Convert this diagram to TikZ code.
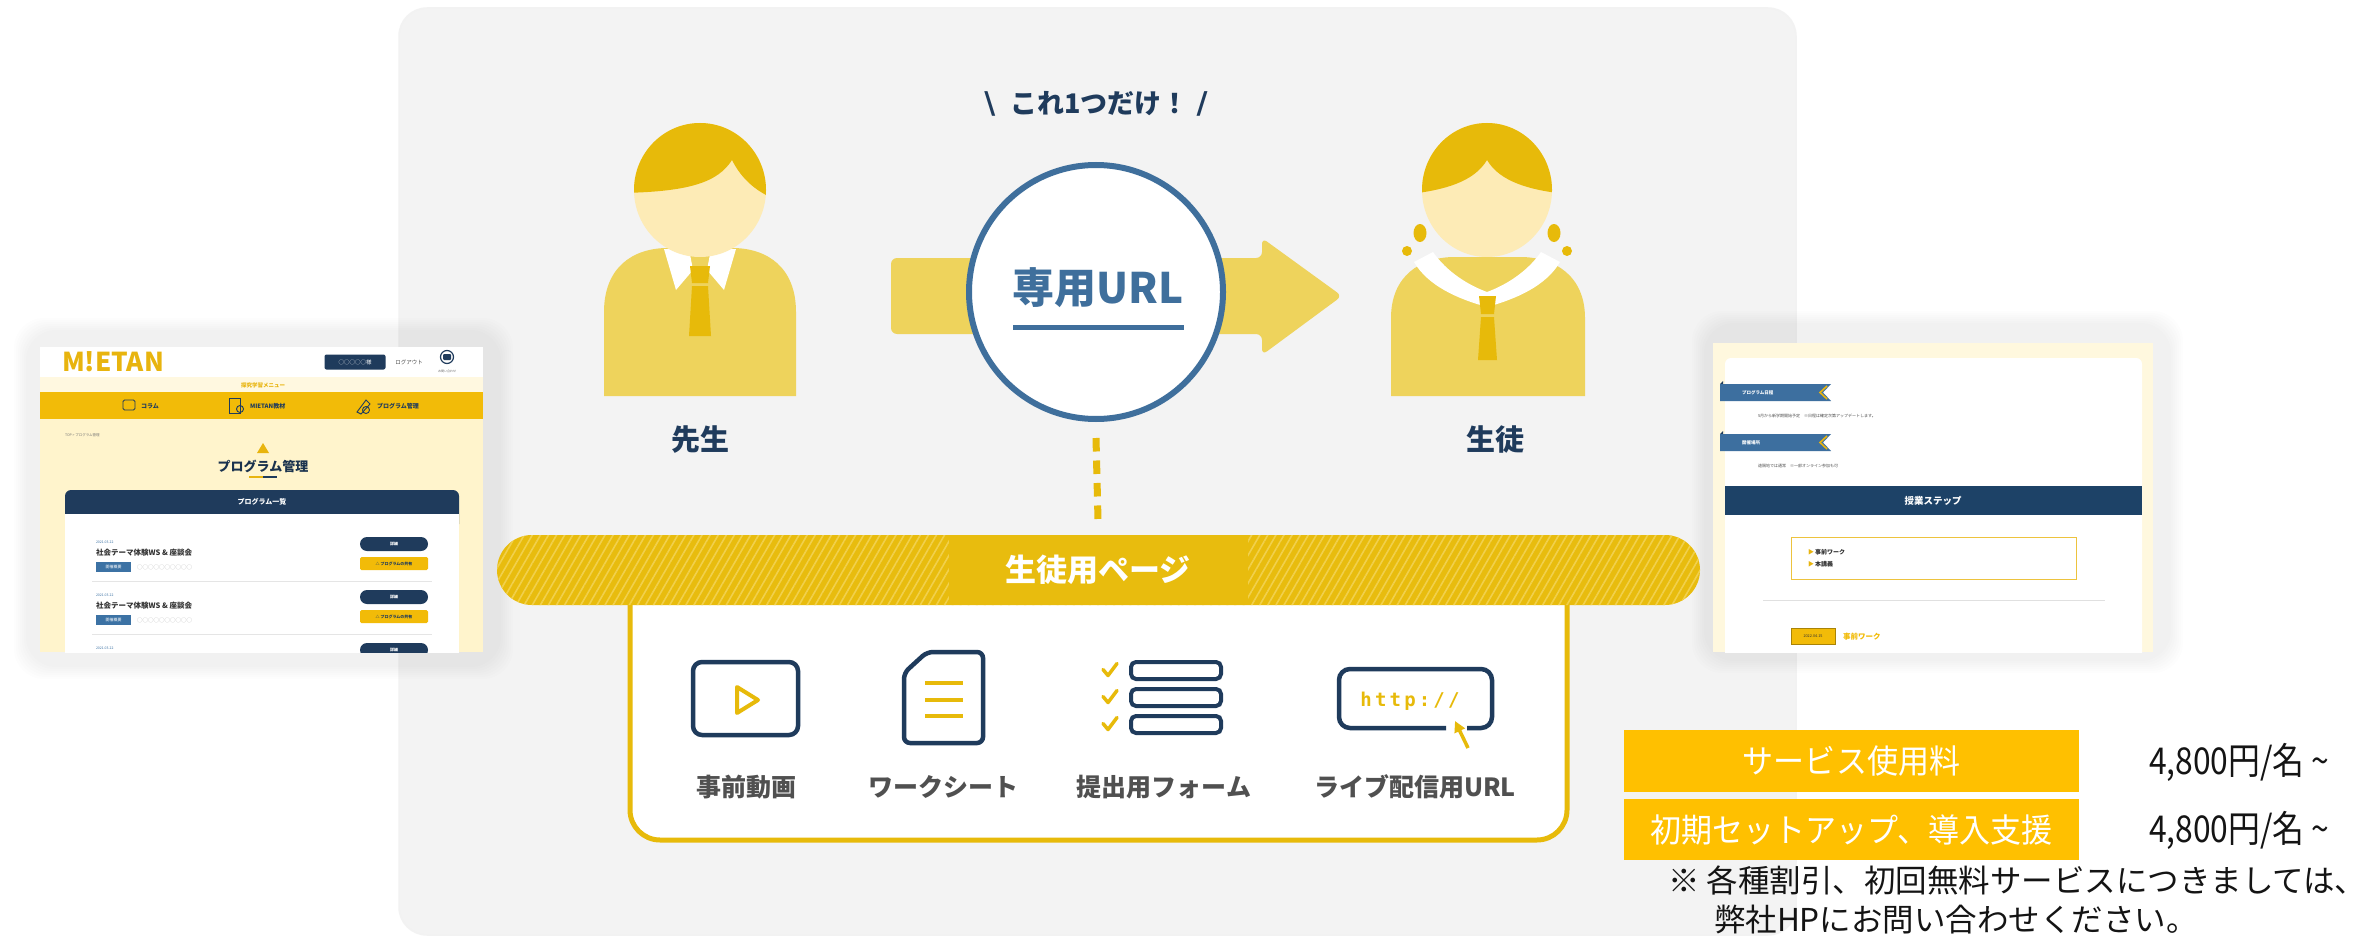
\documentclass[tikz,border=0pt]{standalone}
\usepackage{fontspec}
\usetikzlibrary{patterns.meta,arrows.meta,calc}
\setmainfont{Noto Sans CJK JP}
\newfontfamily\monofont{DejaVu Sans Mono}
\newfontfamily\symfont{DejaVu Sans}
\newfontfamily\narrowfont[FakeStretch=0.86]{Noto Sans CJK JP}
\newfontfamily\boxfont[FakeStretch=0.94]{Noto Sans CJK JP}
\newcommand\setfs[1]{\fontsize{#1}{#1}\selectfont}

\definecolor{panelgray}{HTML}{F3F3F3}
\definecolor{navy}{HTML}{1F3B5C}
\definecolor{steel}{HTML}{3F6F9C}
\definecolor{hairy}{HTML}{E7BA0A}
\definecolor{bodyy}{HTML}{EED35C}
\definecolor{facey}{HTML}{FDEBB6}
\definecolor{banda}{HTML}{E8BC0E}
\definecolor{bandstripe}{HTML}{F1D04C}
\definecolor{pricey}{HTML}{FFC000}
\definecolor{labgray}{HTML}{505050}
\definecolor{cream}{HTML}{FFF4CC}
\definecolor{navbar}{HTML}{F2BB08}
\definecolor{logoy}{HTML}{E8B40E}
\definecolor{tagblue}{HTML}{3C72A4}
\definecolor{ribbon}{HTML}{3D6F9F}
\definecolor{darkbar}{HTML}{1D4267}

\tikzset{
  every node/.style={inner sep=0pt, outer sep=0pt},
  person/.style={font=\bfseries\setfs{29}, text=navy},
  iconlabel/.style={font=\bfseries\setfs{25}, text=labgray},
  markline/.style={draw=hairy, line width=4, line cap=round, line join=round},
  feebox/.style={fill=pricey, minimum width=455, text=white, font=\boxfont\setfs{33}},
  feetext/.style={anchor=west, font=\narrowfont\setfs{37}, text=black!92},
  notetext/.style={anchor=west, font=\setfs{31.5}, text=black!92},
  tinytext/.style={anchor=west, font=\setfs{#1}},
  tinytext/.default=4,
}

\begin{document}
\begin{tikzpicture}[x=1pt,y=-1pt]
\useasboundingbox (0,0) rectangle (2362,939);
\fill[white] (0,0) rectangle (2362,939);

% central panel
\fill[panelgray, rounded corners=28] (399,8) rectangle (1796,935);
\draw[black!5, line width=1.5, rounded corners=28] (399,8) rectangle (1796,935);

% soft halos behind the two screen captures
\foreach \d in {0,2,...,12} {
  \fill[black, opacity=0.007, rounded corners=30] (14+\d,318+\d) rectangle (513-\d,679-\d);
  \fill[black, opacity=0.007, rounded corners=30] (1692+\d,311+\d) rectangle (2183-\d,673-\d);
}

% ---------- left screen capture: programme management page ----------
\begin{scope}
  \clip (40,347) rectangle (483,652);
  \fill[white] (40,347) rectangle (483,377);
  \fill[cream!60!white] (40,377) rectangle (483,392);
  \fill[navbar] (40,392) rectangle (483,419);
  \fill[cream] (40,419) rectangle (483,652);
  \node[anchor=west, font=\bfseries\setfs{26}, text=logoy] (logo) at (62,362) {M!ETAN};
  \node[fill=navy, rounded corners=2, minimum width=61, minimum height=15, font=\setfs{5.5}, text=white] (userbtn) at (355,362) {○○○○○様};
  \node[font=\setfs{5.5}, text=black!70] (logout) at (409,362) {ログアウト};
  \node[draw=navy, circle, line width=1.2, minimum size=13] (contact) at (447,357) {};
  \fill[navy, rounded corners=1] (443,354) rectangle (451,360);
  \node[font=\setfs{3}, text=black!60] (contacttext) at (447,371) {お問い合わせ};
  \node[font=\bfseries\setfs{5.5}, text=logoy] (menutitle) at (263,385) {探究学習メニュー};
  \draw[navy, line width=0.9, rounded corners=1.5] (123,400) rectangle (135,410);
  \node[anchor=west, font=\bfseries\setfs{6}, text=navy] (nav1) at (141,406) {コラム};
  \draw[navy, line width=0.9] (229,398) rectangle (240,413);
  \draw[navy, line width=0.9] (240,409) circle (3.5);
  \node[anchor=west, font=\bfseries\setfs{6}, text=navy] (nav2) at (250,406) {MIETAN教材};
  \draw[navy, line width=0.9] (357,412) -- (366,400) -- (370,404) -- (361,414) -- cycle;
  \draw[navy, line width=0.9] (366,410) circle (3.5);
  \node[anchor=west, font=\bfseries\setfs{6}, text=navy] (nav3) at (377,406) {プログラム管理};
  \node[anchor=west, font=\setfs{3.5}, text=black!55] (crumb) at (65,435) {TOP > プログラム管理};
  \fill[logoy] (263,443) -- (269,453) -- (257,453) -- cycle;
  \node[font=\bfseries\setfs{13}, text=navy!85!black] (pagetitle) at (263,466) {プログラム管理};
  \draw[logoy, line width=1.5] (249,477) -- (263,477);
  \draw[navy, line width=1.5] (263,477) -- (277,477);
  \fill[navy, rounded corners=6] (65,490) rectangle (459,530);
  \fill[white] (65,514) rectangle (459,660);
  \node[font=\bfseries\setfs{7}, text=white] (listhead) at (262,502) {プログラム一覧};
  \foreach \yy [count=\i] in {0,53,106} {
    \node[anchor=west, font=\setfs{3.5}, text=tagblue] (date\i) at (96,542+\yy) {2021.03.22};
    \node[anchor=west, font=\bfseries\setfs{7.5}, text=black!80] (title\i) at (96,553+\yy) {社会テーマ体験WS \& 座談会};
    \node[anchor=west, fill=tagblue, minimum width=35, minimum height=10, font=\setfs{4}, text=white] (tag\i) at (96,567+\yy) {開催概要};
    \node[anchor=west, font=\setfs{5.5}, text=black!30] (blank\i) at (137,567+\yy) {○○○○○○○○○○};
    \node[fill=navy, rounded corners=7, minimum width=68, minimum height=14, font=\bfseries\setfs{4}, text=white] (detail\i) at (394,544+\yy) {詳細};
    \node[fill=navbar, rounded corners=1.5, minimum width=68, minimum height=13, font=\bfseries\setfs{4}, text=navy] (share\i) at (394,563.5+\yy) {△ プログラムの共有};
    \draw[black!10, line width=1] (92,581+\yy) -- (432,581+\yy);
  }
\end{scope}

% ---------- right screen capture: student page ----------
\begin{scope}
  \clip (1713,343) rectangle (2153,652);
  \fill[cream!65!white] (1713,343) rectangle (2153,652);
  \fill[white, rounded corners=6] (1725,358) rectangle (2142,700);
  \foreach \yy/\txt [count=\i] in {384/プログラム日程,434/開催場所} {
    \fill[navy] (1720,\yy) -- (1723,\yy-3) -- (1723,\yy) -- cycle;
    \fill[ribbon] (1720,\yy) -- (1831,\yy) -- (1823,\yy+8.5) -- (1831,\yy+17) -- (1720,\yy+17) -- cycle;
    \draw[logoy, line width=1.6] (1827,\yy+2) -- (1820,\yy+8.5) -- (1827,\yy+15);
    \node[anchor=west, font=\bfseries\setfs{4.5}, text=white] (rib\i) at (1742,\yy+8.5) {\txt};
  }
  \node[tinytext=4, text=black!70] (sched) at (1758,416) {5月から新学期開始予定　※日程は確定次第アップデートします。};
  \node[tinytext=4, text=black!70] (place) at (1758,466) {遠隔地では通常　※一部オンライン参加も可};
  \fill[darkbar] (1725,486) rectangle (2142,515);
  \node[font=\bfseries\setfs{9.5}, text=white] (stephead) at (1933,500.5) {授業ステップ};
  \node[draw=logoy!80, line width=1, fill=white, minimum width=285, minimum height=42] (stepbox) at (1933.5,558) {};
  \node[tinytext=6, font=\bfseries\setfs{6}, text=black!80] (step1) at (1808,552) {\textcolor{logoy}{▶}\,事前ワーク};
  \node[tinytext=6, font=\bfseries\setfs{6}, text=black!80] (step2) at (1808,564) {\textcolor{logoy}{▶}\,本講義};
  \draw[black!12, line width=1] (1763,600) -- (2105,600);
  \node[fill=navbar, draw=navbar!70!black, line width=0.6, minimum width=44, minimum height=16, font=\setfs{3.8}, text=black!80] (datetag) at (1813,636.5) {2022.04.15};
  \node[anchor=west, font=\bfseries\setfs{7.5}, text=navbar] (prework) at (1843,636.5) {事前ワーク};
\end{scope}

% ---------- heading ----------
\node[font=\bfseries\setfs{27}, text=navy] (catch) at (1096,104) {{\symfont\bfseries\setfs{30}\textbackslash}\hspace{15pt}これ1つだけ！\hspace{8pt}{\symfont\bfseries\setfs{30}/}};

% ---------- block arrow from teacher to student ----------
\fill[bodyy, rounded corners=6] (891,258) -- (1262,258) -- (1262,238) -- (1342,296) -- (1262,355) -- (1262,334) -- (891,334) -- cycle;

% ---------- teacher ----------
\fill[bodyy] (604,396) -- (604,312) .. controls (604,268) and (632,248) .. (668,248) -- (732,248) .. controls (768,248) and (796,268) .. (796,312) -- (796,396) -- cycle;
\fill[white] (664,249) -- (689,249) -- (693,270) -- (676,290) -- cycle;
\fill[white] (736,249) -- (711,249) -- (707,270) -- (724,290) -- cycle;
\fill[facey] (700,190) ellipse [x radius=66, y radius=67];
\begin{scope}
  \clip (700,190) ellipse [x radius=66, y radius=67];
  \fill[hairy] (620,110) -- (780,110) -- (780,196) -- (768,196) .. controls (752,188) and (740,176) .. (732,160) .. controls (718,182) and (690,192) .. (620,193) -- cycle;
\end{scope}
\fill[hairy] (690,266) -- (710,266) -- (708,283) -- (692,283) -- cycle;
\fill[hairy] (692,286) -- (708,286) -- (711,336) -- (689,336) -- cycle;
\node[person] (sensei) at (700,440) {先生};

% ---------- student ----------
\fill[bodyy] (1391,396) -- (1391,318) .. controls (1391,276) and (1420,257) .. (1455,257) -- (1520,257) .. controls (1555,257) and (1585,276) .. (1585,318) -- (1585,396) -- cycle;
\fill[white] (1414,262) .. controls (1428,286) and (1458,299) .. (1487,307) .. controls (1516,299) and (1546,286) .. (1560,262) -- (1541,252) .. controls (1527,272) and (1506,285) .. (1487,292) .. controls (1468,285) and (1447,272) .. (1433,252) -- cycle;
\fill[facey] (1487,190) ellipse [x radius=65, y radius=67];
\begin{scope}
  \clip (1487,190) ellipse [x radius=65, y radius=67];
  \fill[hairy] (1410,110) -- (1565,110) -- (1565,194) .. controls (1530,190) and (1500,182) .. (1487,160) .. controls (1474,182) and (1444,190) .. (1410,194) -- cycle;
\end{scope}
\fill[hairy] (1420,233) ellipse [x radius=6.5, y radius=9];
\fill[hairy] (1554,233) ellipse [x radius=6.5, y radius=9];
\fill[hairy] (1407,251) circle (5);
\fill[hairy] (1567,251) circle (5);
\fill[hairy] (1479,296) -- (1496,296) -- (1494,314) -- (1481,314) -- cycle;
\fill[hairy] (1481,317) -- (1494,317) -- (1497,360) -- (1478,360) -- cycle;
\node[person] (seito) at (1495,440) {生徒};

% ---------- dedicated URL badge ----------
\node[circle, draw=steel, line width=6, fill=white, minimum size=254] (url) at (1096,292) {};
\node[font=\bfseries\setfs{42}, text=steel] (urltext) at (1098,288) {専用URL};
\draw[steel, line width=5] (1013,327) -- (1184,327);

% ---------- student page band ----------
\fill[white, rounded corners=30] (630,560) rectangle (1567,840);
\draw[hairy, line width=5, rounded corners=30] (630,600) -- (630,840) -- (1567,840) -- (1567,600);
\fill[banda, rounded corners=35] (497,535) rectangle (1700,605);
\fill[pattern={Lines[angle=60,distance=7pt,line width=1.6pt]}, pattern color=bandstripe, rounded corners=35] (497,535) rectangle (1700,605);
\node[fill=banda, minimum width=299, minimum height=70, font=\bfseries\setfs{31}, text=white] (band) at (1098,570) {生徒用ページ};

% dotted link from the URL badge down to the page band
\draw[hairy, line width=7, dash pattern=on 13.5pt off 9pt] ([yshift=-19pt]url.south) -- ([yshift=15pt]band.north);

% ---------- page contents ----------
\node[draw=navy, line width=4.5, rounded corners=9, minimum width=105, minimum height=73] (video) at (745.5,698.5) {};
\draw[markline] (737,687) -- (758,700) -- (737,713) -- cycle;

\draw[navy, line width=4.5, rounded corners=6] (927,652) -- (983,652) -- (983,743) -- (904,743) -- (904,673) -- cycle;
\draw[markline, line cap=butt] (925,683) -- (963,683);
\draw[markline, line cap=butt] (925,699.5) -- (963,699.5);
\draw[markline, line cap=butt] (925,716) -- (963,716);

\foreach \yy in {670.5,697.5,724.5} {
  \draw[navy, line width=4, rounded corners=5] (1131,\yy-8.5) rectangle (1221,\yy+8.5);
  \draw[markline, line width=3.5] (1103,\yy-1) -- (1108,\yy+5) -- (1117,\yy-7);
}

\draw[navy, line width=4.5, rounded corners=11] (1446,728) -- (1339,728) -- (1339,669) -- (1492,669) -- (1492,728) -- (1467,728);
\node[font=\monofont\bfseries\setfs{19}, text=hairy] (http) at (1410,701) {h\,t\,t\,p\,:\,/\,/};
\draw[hairy, line width=3.5, -{Triangle[length=11pt,width=11pt]}] (1468,748) -- (1455,721);

\node[iconlabel] (lvideo) at (746,787) {事前動画};
\node[iconlabel] (lsheet) at (943,787) {ワークシート};
\node[iconlabel] (lform) at (1164,787) {提出用フォーム};
\node[iconlabel] (llive) at (1415,787) {ライブ配信用URL};

% ---------- fees ----------
\node[feebox, minimum height=62] (fee1) at (1851.5,761) {サービス使用料};
\node[feebox, minimum height=61] (fee2) at (1851.5,829.5) {初期セットアップ、導入支援};
\node[feetext] (price1) at (2149,762) {4,800円/名 \textasciitilde};
\node[feetext] (price2) at (2149,830) {4,800円/名 \textasciitilde};
\node[notetext] (note1) at (1668,880) {※ 各種割引、初回無料サービスにつきましては、};
\node[notetext] (note2) at (1714,920) {弊社HPにお問い合わせください。};
\end{tikzpicture}
\end{document}
